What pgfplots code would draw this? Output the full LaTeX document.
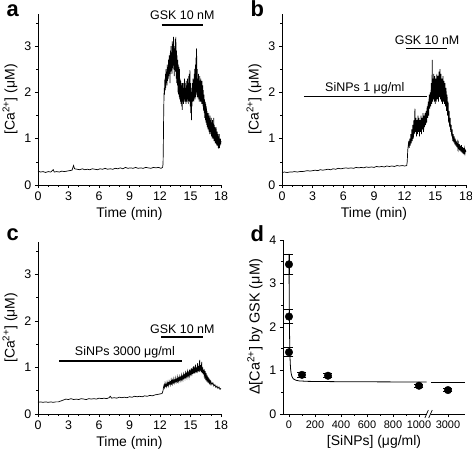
\documentclass[border=0pt]{standalone}
\usepackage{pgfplots}
\pgfplotsset{compat=1.18}
\usepackage{fontspec}
\setmainfont{Liberation Sans}

\tikzset{ann/.style={font=\fontsize{12.5}{13}\selectfont},
  plab/.style={font=\bfseries\fontsize{22}{22}\selectfont, anchor=base west}}
\pgfplotsset{
  panel/.style={
    scale only axis, anchor=south west,
    axis lines=left, axis line style={-, line width=0.8pt},
    every outer x axis line/.append style={-},
    every outer y axis line/.append style={-},
    tick align=outside, tick style={black, line width=0.6pt},
    major tick length=3.2pt, minor tick length=2pt,
    /pgf/number format/assume math mode=true,
    tick label style={font=\fontsize{12.5}{13}\selectfont},
    label style={font=\fontsize{14}{15}\selectfont},
    clip=false,
  },
  trace/.style={
    xmin=0, xmax=18, ymin=0, ymax=3.7,
    xtick={0,3,...,18}, minor xtick={1,2,4,5,7,8,10,11,13,14,16,17},
    ytick={0,1,2,3}, minor ytick={0.5,1.5,2.5,3.5},
    xlabel={Time (min)}, ylabel={[Ca\textsuperscript{2+}] (μM)},
    width=183bp, height=171.3bp,
  },
  sig/.style={black, line width=0.7pt},
  bar/.style={black, line width=1.8pt},
}

\begin{document}
\begin{tikzpicture}
% ---------------- panel a ----------------
\begin{axis}[panel, trace, at={(38bp,265bp)}]
\addplot[sig] coordinates {
(0,0.30)(0.25,0.28)(0.5,0.29)(0.75,0.27)(1.0,0.29)(1.25,0.28)(1.5,0.33)(1.6,0.28)(1.85,0.29)(2.1,0.28)(2.35,0.30)(2.6,0.29)(2.85,0.30)(3.1,0.31)(3.35,0.32)(3.5,0.42)(3.6,0.35)(3.85,0.34)(4.1,0.33)(4.35,0.35)(4.6,0.33)(4.85,0.34)(5.1,0.33)(5.35,0.35)(5.6,0.34)(5.85,0.33)(6.1,0.35)(6.35,0.34)(6.6,0.36)(6.85,0.34)(7.1,0.35)(7.35,0.34)(7.6,0.36)(7.85,0.35)(8.1,0.37)(8.35,0.35)(8.6,0.38)(8.85,0.36)(9.1,0.37)(9.35,0.36)(9.6,0.38)(9.85,0.36)(10.1,0.37)(10.35,0.36)(10.6,0.38)(10.85,0.37)(11.1,0.36)(11.35,0.38)(11.6,0.37)(11.85,0.38)(12.1,0.36)(12.25,0.38)
(12.3,0.45)(12.33,0.9)(12.36,1.5)(12.39,1.9)(12.42,2.1)(12.45,1.95)(12.48,2.3)(12.51,2.05)(12.54,2.4)(12.57,2.1)(12.6,2.5)(12.63,2.2)(12.66,2.45)(12.69,2.15)(12.72,2.6)(12.75,2.25)(12.78,2.55)(12.81,2.3)(12.84,2.7)(12.87,2.35)(12.9,2.8)(12.93,2.4)(12.96,2.7)(12.99,2.2)(13.02,2.9)(13.05,2.45)(13.08,3.0)(13.11,2.5)(13.14,2.85)(13.17,2.4)(13.2,3.1)(13.23,2.55)(13.26,3.05)(13.29,2.5)(13.32,3.2)(13.35,2.6)(13.38,2.95)(13.41,2.35)(13.44,3.0)(13.47,2.5)(13.5,3.15)(13.53,2.45)(13.56,3.2)(13.59,2.3)(13.62,2.9)(13.65,2.2)(13.68,2.8)(13.71,2.15)(13.74,2.7)(13.77,2.0)(13.8,2.6)(13.83,1.95)(13.86,2.55)(13.89,1.9)(13.92,2.5)(13.95,1.85)(13.98,2.3)(14.01,1.8)(14.04,2.25)(14.07,1.75)(14.1,2.2)(14.13,1.7)(14.16,2.15)(14.19,1.62)(14.22,2.2)(14.25,1.8)(14.28,2.1)(14.31,1.75)(14.34,2.2)(14.37,1.8)(14.4,2.3)(14.43,1.85)(14.46,2.2)(14.49,1.8)(14.52,2.1)(14.55,1.75)(14.58,2.25)(14.61,1.8)(14.64,2.15)(14.67,1.85)(14.7,2.3)(14.73,1.8)(14.76,2.2)(14.79,1.75)(14.82,2.35)(14.85,1.85)(14.88,2.4)(14.91,1.8)(14.94,2.48)(14.97,1.7)(15.0,2.2)(15.03,1.55)(15.06,2.1)(15.09,1.4)(15.12,2.0)(15.15,1.7)(15.18,2.2)(15.21,1.8)(15.24,2.3)(15.27,1.85)(15.3,2.25)(15.33,1.8)(15.36,2.4)(15.39,1.9)(15.42,2.5)(15.45,1.85)(15.48,2.6)(15.51,1.9)(15.54,2.75)(15.57,2.0)(15.6,2.95)(15.63,1.95)(15.66,2.5)(15.69,1.9)(15.72,2.3)(15.75,1.85)(15.78,2.4)(15.81,1.9)(15.84,2.2)(15.87,1.8)(15.9,2.35)(15.93,1.85)(15.96,2.25)(15.99,1.8)(16.02,2.3)(16.05,1.8)(16.08,2.2)(16.11,1.75)(16.14,2.25)(16.17,1.75)(16.2,2.15)(16.23,1.7)(16.26,2.05)(16.29,1.6)(16.32,1.95)(16.35,1.55)(16.38,1.85)(16.41,1.45)(16.44,1.8)(16.47,1.4)(16.5,1.75)(16.53,1.35)(16.56,1.7)(16.59,1.3)(16.62,1.6)(16.65,1.25)(16.68,1.55)(16.71,1.2)(16.74,1.5)(16.77,1.2)(16.8,1.55)(16.83,1.15)(16.86,1.45)(16.89,1.1)(16.92,1.5)(16.95,1.15)(16.98,1.4)(17.01,1.1)(17.04,1.45)(17.07,1.05)(17.1,1.35)(17.13,1.0)(17.16,1.4)(17.19,1.05)(17.22,1.3)(17.25,1.0)(17.28,1.45)(17.31,0.95)(17.34,1.3)(17.37,0.95)(17.4,1.25)(17.43,0.9)(17.46,1.2)(17.49,0.9)(17.52,1.25)(17.55,0.88)(17.58,1.15)(17.61,0.85)(17.64,1.15)(17.67,0.85)(17.7,1.1)(17.73,0.8)(17.76,1.05)(17.79,0.78)(17.82,1.1)(17.85,0.8)(17.88,1.0)(17.91,0.85)(17.94,1.0)(17.97,0.88)(18.0,0.95)
};
\addplot[bar] coordinates {(12.15,3.46)(16.2,3.46)};
\node[ann] at (axis cs:14.2,3.66) {GSK 10 nM};
\end{axis}
\node[plab] at (3bp,433bp) {a};

% ---------------- panel b ----------------
\begin{axis}[panel, trace, at={(282bp,265bp)}, width=184bp]
\addplot[sig] coordinates {
(0,0.27)(0.25,0.28)(0.5,0.27)(0.75,0.28)(1.0,0.28)(1.25,0.29)(1.5,0.28)(1.75,0.29)(2.0,0.29)(2.25,0.30)(2.5,0.31)(2.75,0.30)(3.0,0.31)(3.25,0.32)(3.5,0.31)(3.75,0.33)(4.0,0.32)(4.25,0.33)(4.5,0.34)(4.75,0.33)(5.0,0.35)(5.25,0.34)(5.5,0.36)(5.75,0.35)(6.0,0.36)(6.25,0.37)(6.5,0.36)(6.75,0.37)(7.0,0.36)(7.25,0.38)(7.5,0.37)(7.75,0.38)(8.0,0.37)(8.25,0.39)(8.5,0.38)(8.75,0.39)(9.0,0.38)(9.25,0.40)(9.5,0.39)(9.75,0.40)(10.0,0.39)(10.25,0.41)(10.5,0.40)(10.75,0.41)(11.0,0.40)(11.25,0.42)(11.5,0.41)(11.75,0.42)(12.0,0.41)(12.2,0.42)
(12.25,0.5)(12.3,0.75)(12.35,0.85)(12.4,0.95)(12.45,0.8)(12.5,1.0)(12.55,0.85)(12.6,1.1)(12.65,0.9)(12.7,1.2)(12.75,0.95)(12.8,1.3)(12.85,1.0)(12.9,1.4)(12.95,1.1)(13.0,1.65)(13.05,1.15)(13.1,1.45)(13.15,1.05)(13.2,1.4)(13.25,1.1)(13.3,1.5)(13.35,1.15)(13.4,1.45)(13.45,1.05)(13.5,1.4)(13.55,1.15)(13.6,1.5)(13.65,1.1)(13.7,1.45)(13.75,1.2)(13.8,1.55)(13.85,1.15)(13.9,1.5)(13.95,1.25)(14.0,1.55)(14.05,1.3)(14.1,1.6)(14.15,1.35)(14.2,1.7)(14.25,1.45)(14.3,1.8)(14.35,1.5)(14.4,1.95)(14.45,1.65)(14.5,2.0)(14.55,1.7)(14.6,2.2)(14.65,1.75)(14.7,2.7)(14.72,1.8)(14.75,2.3)(14.8,1.85)(14.85,2.4)(14.9,1.8)(14.95,2.35)(15.0,1.75)(15.05,2.3)(15.1,1.8)(15.15,2.4)(15.2,1.85)(15.25,2.35)(15.3,1.8)(15.35,2.45)(15.4,1.9)(15.45,2.5)(15.5,1.85)(15.55,2.4)(15.6,1.8)(15.65,2.3)(15.7,1.75)(15.75,2.35)(15.8,1.8)(15.85,2.25)(15.9,1.75)(15.95,2.2)(16.0,1.7)(16.05,2.1)(16.1,1.6)(16.15,1.95)(16.2,1.5)(16.25,1.8)(16.3,1.35)(16.35,1.6)(16.4,1.25)(16.45,1.45)(16.5,1.15)(16.55,1.3)(16.6,1.05)(16.65,1.2)(16.7,0.95)(16.75,1.1)(16.8,0.92)(16.85,1.05)(16.9,0.88)(16.95,1.0)(17.0,0.85)(17.05,0.95)(17.1,0.82)(17.15,0.92)(17.2,0.8)(17.25,0.9)(17.3,0.78)(17.35,0.88)(17.4,0.75)(17.45,0.85)(17.5,0.72)(17.55,0.86)(17.6,0.7)(17.65,0.82)(17.7,0.68)(17.75,0.8)(17.8,0.66)(17.85,0.78)(17.9,0.68)(17.95,0.75)(18.0,0.72)
};
\addplot[bar] coordinates {(12.14,2.95)(16.1,2.95)};
\node[ann] at (axis cs:14.2,3.12) {GSK 10 nM};
\addplot[bar] coordinates {(2.15,1.91)(14.16,1.91)};
\node[ann] at (axis cs:8.1,2.08) {SiNPs 1 μg/ml};
\end{axis}
\node[plab] at (247bp,433bp) {b};

% ---------------- panel c ----------------
\begin{axis}[panel, trace, at={(38bp,36bp)}, height=172.4bp]
\addplot[sig] coordinates {
(0,0.25)(0.25,0.26)(0.5,0.25)(0.75,0.26)(1.0,0.25)(1.25,0.26)(1.5,0.25)(1.75,0.26)(2.0,0.26)(2.25,0.28)(2.5,0.30)(2.75,0.32)(3.0,0.31)(3.25,0.33)(3.5,0.31)(3.75,0.32)(4.0,0.31)(4.25,0.33)(4.5,0.32)(4.75,0.31)(5.0,0.33)(5.25,0.32)(5.5,0.33)(5.75,0.32)(6.0,0.34)(6.25,0.33)(6.5,0.34)(6.75,0.33)(7.0,0.35)(7.1,0.38)(7.25,0.34)(7.5,0.35)(7.75,0.34)(8.0,0.36)(8.25,0.35)(8.5,0.36)(8.75,0.35)(9.0,0.37)(9.25,0.36)(9.5,0.38)(9.75,0.37)(10.0,0.38)(10.25,0.37)(10.5,0.39)(10.75,0.38)(11.0,0.40)(11.25,0.39)(11.5,0.41)(11.75,0.42)(12.0,0.43)(12.2,0.44)
(12.3,0.5)(12.35,0.58)(12.4,0.62)(12.45,0.57)(12.5,0.66)(12.55,0.6)(12.6,0.63)(12.65,0.59)(12.7,0.68)(12.75,0.62)(12.8,0.66)(12.85,0.61)(12.9,0.7)(12.95,0.65)(13.0,0.68)(13.05,0.63)(13.1,0.73)(13.15,0.66)(13.2,0.71)(13.25,0.65)(13.3,0.75)(13.35,0.68)(13.4,0.72)(13.45,0.67)(13.5,0.77)(13.55,0.7)(13.6,0.74)(13.65,0.69)(13.7,0.79)(13.75,0.71)(13.8,0.76)(13.85,0.7)(13.9,0.8)(13.95,0.74)(14.0,0.78)(14.05,0.72)(14.1,0.83)(14.15,0.75)(14.2,0.8)(14.25,0.74)(14.3,0.85)(14.35,0.78)(14.4,0.83)(14.45,0.77)(14.5,0.88)(14.55,0.8)(14.6,0.86)(14.65,0.79)(14.7,0.91)(14.75,0.83)(14.8,0.88)(14.85,0.8)(14.9,0.95)(14.95,0.85)(15.0,0.92)(15.05,0.83)(15.1,0.98)(15.15,0.87)(15.2,0.95)(15.25,0.86)(15.3,1.02)(15.35,0.88)(15.4,0.97)(15.45,0.87)(15.5,1.06)(15.55,0.9)(15.6,1.0)(15.65,0.88)(15.7,1.09)(15.75,0.92)(15.8,1.03)(15.85,0.9)(15.9,1.16)(15.95,0.93)(16.0,1.05)(16.05,0.9)(16.1,1.12)(16.15,0.88)(16.2,1.0)(16.25,0.85)(16.3,0.95)(16.35,0.82)(16.4,0.9)(16.45,0.78)(16.5,0.86)(16.55,0.75)(16.6,0.82)(16.65,0.72)(16.7,0.78)(16.75,0.7)(16.8,0.75)(16.85,0.67)(16.9,0.72)(16.95,0.65)(17.0,0.7)(17.1,0.63)(17.2,0.67)(17.3,0.6)(17.4,0.63)(17.5,0.57)(17.6,0.6)(17.7,0.55)(17.8,0.58)(17.9,0.53)(18.0,0.55)
};
\addplot[bar] coordinates {(12.1,1.66)(16.2,1.66)};
\node[ann] at (axis cs:14.2,1.83) {GSK 10 nM};
\addplot[bar] coordinates {(2.1,1.14)(14.2,1.14)};
\node[ann] at (axis cs:8.55,1.32) {SiNPs 3000 μg/ml};
\end{axis}
\node[plab] at (3bp,209bp) {c};

% ---------------- panel d ----------------
\begin{axis}[panel, at={(283bp,36bp)}, width=182bp, height=174bp,
  xmin=-46, xmax=1354, ymin=0, ymax=4,
  xtick={0,200,400,600,800,1000,1223}, xticklabels={0,200,400,600,800,1000,3000},
  minor xtick={100,300,500,700,900},
  ytick={0,1,2,3,4}, minor ytick={0.5,1.5,2.5,3.5},
  xticklabel style={font=\fontsize{11}{12}\selectfont},
  xlabel={[SiNPs] (μg/ml)}, ylabel={Δ[Ca\textsuperscript{2+}] by GSK (μM)},
  ylabel style={font=\fontsize{14.5}{15}\selectfont},
  after end axis/.code={
    \fill[white] (axis cs:1058,-0.12) rectangle (axis cs:1095,0.12);
    \draw[line width=0.7pt] (axis cs:1045,-0.09) -- (axis cs:1072,0.09);
    \draw[line width=0.7pt] (axis cs:1075,-0.09) -- (axis cs:1102,0.09);
  }]
\addplot[black, line width=0.8pt] coordinates {
(0,3.68)(2,2.6)(4,1.95)(6,1.55)(8,1.3)(10,1.15)(13,1.02)(17,0.93)(22,0.87)(30,0.82)(40,0.795)(55,0.775)(80,0.76)(150,0.75)(400,0.742)(1058,0.735)
};
\addplot[black, line width=0.8pt] coordinates {(1092,0.733)(1354,0.733)};
\addplot[black, only marks, mark=*, mark size=3.8bp,
  error bars/.cd, y dir=both, y explicit,
  error bar style={line width=0.8pt},
  error mark options={rotate=90, mark size=4.5bp, line width=0.8pt}]
coordinates {
(0,3.44) += (0,0.23) -= (0,0.23)
(0,2.24) += (0,0.16) -= (0,0.15)
(0,1.42) += (0,0.10) -= (0,0.10)
(100,0.90) += (0,0.05) -= (0,0.05)
(300,0.88) += (0,0.05) -= (0,0.05)
(1000,0.65) += (0,0.04) -= (0,0.04)
(1223,0.55) += (0,0.04) -= (0,0.04)
};
\end{axis}
\node[plab] at (247bp,208bp) {d};

\pgfresetboundingbox
\path[use as bounding box] (0,0) rectangle (472bp,450bp);
\end{tikzpicture}
\end{document}
